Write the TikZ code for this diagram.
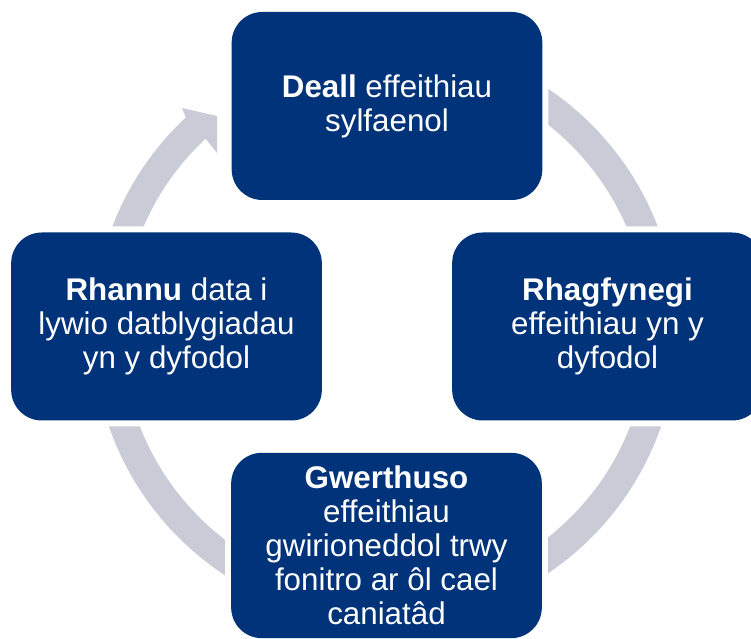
\documentclass[tikz,border=0pt]{standalone}
\usepackage{fontspec}
\setmainfont{Liberation Sans}
\usepackage{xcolor}
\usepackage{tikz}
\usetikzlibrary{positioning}
\definecolor{navy}{RGB}{0,51,121}
\definecolor{ringgray}{RGB}{201,204,214}

\begin{document}
\begin{tikzpicture}[
  x=0.75pt, y=0.75pt,
  stage/.style={fill=navy, rounded corners=23pt, minimum width=233pt, minimum height=141pt, inner sep=0pt,
    text=white, align=center, font=\fontsize{23.5}{25.5}\selectfont,
    preaction={draw=white, line width=9pt}},
  ring/.style={fill=ringgray},
]

\def\rout{292}
\def\rin{263}
\def\rend{-227}

\useasboundingbox (0,0) rectangle (751,639);
\clip (0,0) rectangle (751,639);

% --- Cycle arrow ---
\begin{scope}[shift={(385,308)}]
\fill[ring] (90:\rout) arc[start angle=90, end angle=\rend, radius=\rout]
  -- (-203,223) -- (-168,215) -- (-168,178)
  -- (\rend:\rin) arc[start angle=\rend, end angle=90, radius=\rin] -- cycle;
\end{scope}

% --- Stages ---
\node[stage] (deall) at (387,533) {\textbf{Deall} effeithiau\\sylfaenol};
\node[stage] (rhagfynegi) at (607.5,312.5) {\textbf{Rhagfynegi}\\effeithiau yn y\\dyfodol};
\node[stage, minimum height=139pt] (gwerthuso) at (386.5,93.5) {\textbf{Gwerthuso}\\effeithiau\\gwirioneddol trwy\\fonitro ar ôl cael\\caniatâd};
\node[stage] (rhannu) at (166.5,312.5) {\textbf{Rhannu} data i\\lywio datblygiadau\\yn y dyfodol};

\end{tikzpicture}
\end{document}
